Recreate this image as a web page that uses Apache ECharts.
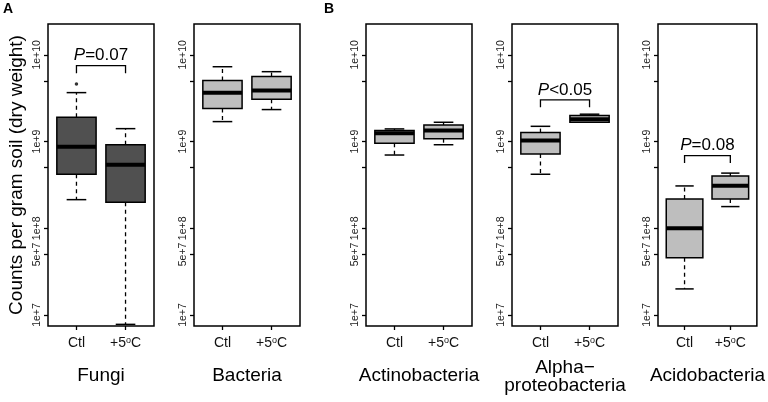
<!DOCTYPE html>
<html><head><meta charset="utf-8">
<script src="https://cdn.jsdelivr.net/npm/echarts@6/dist/echarts.min.js"></script>
<style>html,body{margin:0;padding:0;background:#fff}#c{width:768px;height:402px}</style>
</head><body><div id="c"></div>
<script>
// ---- data ----
const groups = ['Ctl', '+5°C'];
const panelNames = ['Fungi', 'Bacteria', 'Actinobacteria', 'Alpha\u2212\nproteobacteria', 'Acidobacteria'];
// each: [lower whisker, Q1, median, Q3, upper whisker] for Ctl and +5°C
const fungi = [[2.14e8, 4.2e8, 8.7e8, 1.91e9, 3.67e9], [7.8e6, 2.0e8, 5.4e8, 9.2e8, 1.41e9]];
const fungiOutliers = [[1, 4.6e9]];
const bacteria = [[1.7e9, 2.4e9, 3.65e9, 5.06e9, 7.3e9], [2.34e9, 3.08e9, 3.87e9, 5.62e9, 6.4e9]];
const actinobacteria = [[7.0e8, 9.55e8, 1.25e9, 1.34e9, 1.4e9], [9.2e8, 1.08e9, 1.34e9, 1.55e9, 1.67e9]];
const alphaproteobacteria = [[4.2e8, 7.2e8, 1.03e9, 1.27e9, 1.5e9], [1.67e9, 1.67e9, 1.81e9, 2.0e9, 2.07e9]];
const acidobacteria = [[2.0e7, 4.56e7, 1.0e8, 2.18e8, 3.08e8], [1.78e8, 2.18e8, 3.1e8, 4.0e8, 4.33e8]];
const pTexts = [['P', '=0.07'], null, null, ['P', '<0.05'], ['P', '=0.08']];
const pBracket = [7.5e9, null, null, 3.03e9, 6.9e8];
const yTickValues = [1e7, 5e7, 1e8, 5e8, 1e9, 5e9, 1e10];
const yLabelValues = [1e7, 5e7, 1e8, 1e9, 1e10];
const yRange = [7.47e6, 2.27e10];

// ---- layout ----
const panels = [fungi, bacteria, actinobacteria, alphaproteobacteria, acidobacteria];
const fills = ['#505050', '#bebebe', '#bebebe', '#bebebe', '#bebebe'];
const gridLefts = [48, 194, 366, 512, 658];
const nameGaps = [41, 41, 41, 33, 41];
const FONT = '"Liberation Sans", Arial, sans-serif';
const L = Math.log10;

function yLabelFmt(v) {
  const e = Math.floor(v + 1e-6);
  const m = Math.round(Math.pow(10, v - e));
  return m + 'e+' + e;
}

const chart = echarts.init(document.getElementById('c'), null, {renderer: 'canvas'});
const grids = [], xAxes = [], yAxes = [], series = [];

function renderBox(fill) {
  return function (params, api) {
    const x = api.value(0);
    const pLo = api.coord([x, api.value(1)]);
    const pQ1 = api.coord([x, api.value(2)]);
    const pMed = api.coord([x, api.value(3)]);
    const pQ3 = api.coord([x, api.value(4)]);
    const pHi = api.coord([x, api.value(5)]);
    const half = api.size([0.8, 0])[0] / 2;
    const cap = half / 2;
    const cx = pMed[0];
    const dash = {stroke: '#000', lineWidth: 1.3, lineDash: [4, 3.5]};
    const solid = {stroke: '#000', lineWidth: 1.5};
    return {
      type: 'group',
      children: [
        {type: 'line', shape: {x1: cx, y1: pQ3[1], x2: cx, y2: pHi[1]}, style: dash},
        {type: 'line', shape: {x1: cx, y1: pQ1[1], x2: cx, y2: pLo[1]}, style: dash},
        {type: 'line', shape: {x1: cx - cap, y1: pHi[1], x2: cx + cap, y2: pHi[1]}, style: solid},
        {type: 'line', shape: {x1: cx - cap, y1: pLo[1], x2: cx + cap, y2: pLo[1]}, style: solid},
        {type: 'rect', shape: {x: cx - half, y: pQ3[1], width: half * 2, height: pQ1[1] - pQ3[1]},
          style: {fill: fill, stroke: '#000', lineWidth: 1.5}},
        {type: 'line', shape: {x1: cx - half, y1: pMed[1], x2: cx + half, y2: pMed[1]},
          style: {stroke: '#000', lineWidth: 4}}
      ]
    };
  };
}

function renderBracket(texts) {
  return function (params, api) {
    const p1 = api.coord([api.value(0), api.value(2)]);
    const p2 = api.coord([api.value(1), api.value(2)]);
    const y = p1[1];
    return {
      type: 'group',
      children: [
        {type: 'polyline', shape: {points: [[p1[0], y + 7.5], [p1[0], y], [p2[0], y], [p2[0], y + 7.5]]},
          style: {stroke: '#000', lineWidth: 1.3, fill: null}},
        {type: 'text', x: (p1[0] + p2[0]) / 2, y: y - 10,
          style: {text: '{i|' + texts[0] + '}{n|' + texts[1] + '}', align: 'center', verticalAlign: 'middle',
            rich: {i: {fontStyle: 'italic', fontSize: 17, fontFamily: FONT, fill: '#000'},
                   n: {fontSize: 17, fontFamily: FONT, fill: '#000'}}}}
      ]
    };
  };
}

panels.forEach((pd, i) => {
  grids.push({left: gridLefts[i], top: 24, width: 106, height: 302, show: true,
    borderColor: '#000', borderWidth: 1.5, backgroundColor: 'transparent'});
  xAxes.push({
    gridIndex: i, type: 'value', min: 0.42, max: 2.58,
    axisLine: {show: false}, splitLine: {show: false},
    axisTick: {show: true, customValues: [1, 2], length: 4, lineStyle: {color: '#000', width: 1.3}},
    axisLabel: {customValues: [1, 2], margin: 10, fontSize: 14, fontFamily: FONT, color: '#111',
      formatter: v => v === 1 ? '{a|' + groups[0] + '}' : '{a|+5}{s|o}{a|C}',
      rich: {a: {fontSize: 14, fontFamily: FONT, color: '#111'},
             s: {fontSize: 9, fontFamily: FONT, color: '#111', verticalAlign: 'top', padding: [0, 0, 6, 0]}}},
    name: panelNames[i], nameLocation: 'middle', nameGap: nameGaps[i],
    nameTextStyle: {fontSize: 19, fontFamily: FONT, color: '#000', lineHeight: 18}
  });
  yAxes.push({
    gridIndex: i, type: 'value', min: L(yRange[0]), max: L(yRange[1]),
    axisLine: {show: false}, splitLine: {show: false},
    axisTick: {show: true, customValues: yTickValues.map(L), length: 4, lineStyle: {color: '#000', width: 1.3}},
    axisLabel: {customValues: yLabelValues.map(L), rotate: 90, margin: 5, fontSize: 10.5,
      fontFamily: FONT, color: '#222', formatter: yLabelFmt},
    name: i === 0 ? 'Counts per gram soil (dry weight)' : '', nameLocation: 'middle', nameGap: 22,
    nameTextStyle: {fontSize: 19, fontFamily: FONT, color: '#000'}
  });
  series.push({
    type: 'custom', xAxisIndex: i, yAxisIndex: i, renderItem: renderBox(fills[i]),
    data: pd.map((b, k) => [k + 1].concat(b.map(L))), silent: true, z: 2
  });
  if (pTexts[i]) {
    series.push({
      type: 'custom', xAxisIndex: i, yAxisIndex: i, renderItem: renderBracket(pTexts[i]),
      data: [[1, 2, L(pBracket[i])]], silent: true, z: 3
    });
  }
});
series.push({
  type: 'scatter', xAxisIndex: 0, yAxisIndex: 0, symbol: 'circle', symbolSize: 3.5,
  itemStyle: {color: '#000'}, data: fungiOutliers.map(p => [p[0], L(p[1])]), silent: true, z: 4
});

chart.setOption({
  animation: false,
  textStyle: {fontFamily: FONT},
  title: [
    {text: 'A', left: 3, top: 2, padding: 0, textStyle: {fontSize: 14, fontWeight: 'bold', color: '#000', fontFamily: FONT}},
    {text: 'B', left: 324, top: 2, padding: 0, textStyle: {fontSize: 14, fontWeight: 'bold', color: '#000', fontFamily: FONT}}
  ],
  grid: grids, xAxis: xAxes, yAxis: yAxes, series: series
});
</script></body></html>
